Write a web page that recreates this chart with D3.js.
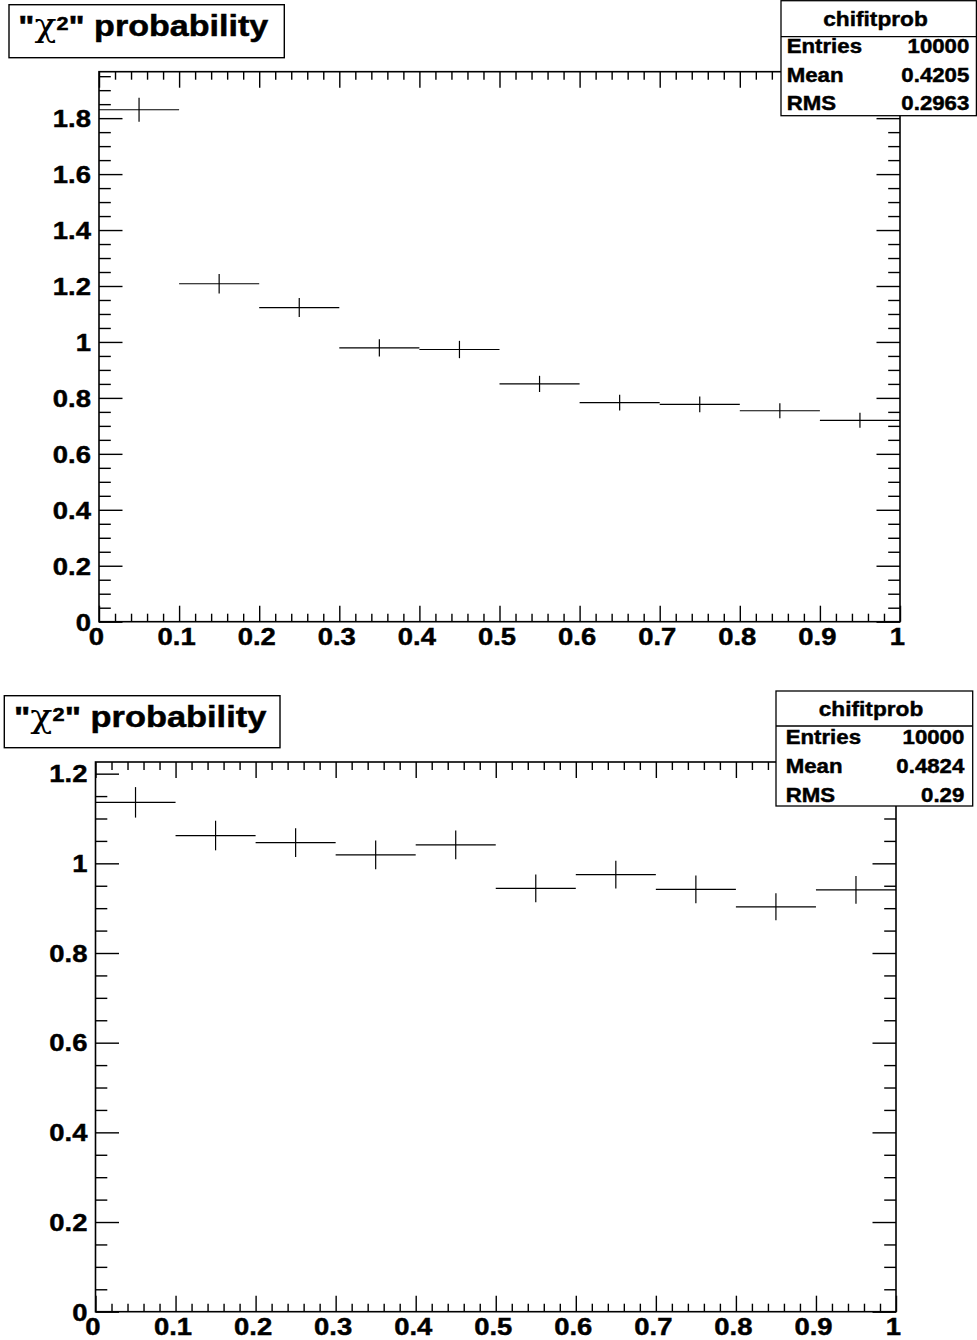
<!DOCTYPE html>
<html>
<head>
<meta charset="utf-8">
<script src="https://cdn.jsdelivr.net/npm/d3@7"></script>
<style>
  body { margin: 0; background: #fff; }
  svg { display: block; }
</style>
</head>
<body>
<script>
// Histogram "chifitprob": 10 bins on [0,1], normalised to unit area.
const binEdges = [0, 0.1, 0.2, 0.3, 0.4, 0.5, 0.6, 0.7, 0.8, 0.9, 1.0];

// upper pad
const topValues = [1.830, 1.208, 1.123, 0.979, 0.973, 0.850, 0.783, 0.777, 0.754, 0.720];
const topErrors = [0.043, 0.035, 0.034, 0.031, 0.031, 0.029, 0.028, 0.028, 0.027, 0.027];
const topStats = ["10000", "0.4205", "0.2963"];

// lower pad
const bottomValues = [1.136, 1.062, 1.046, 1.019, 1.041, 0.944, 0.975, 0.942, 0.903, 0.941];
const bottomErrors = [0.034, 0.033, 0.032, 0.032, 0.032, 0.031, 0.031, 0.031, 0.030, 0.031];
const bottomStats = ["10000", "0.4824", "0.29"];

const xTicks = [0, 0.1, 0.2, 0.3, 0.4, 0.5, 0.6, 0.7, 0.8, 0.9, 1];
const topYTicks = [0, 0.2, 0.4, 0.6, 0.8, 1, 1.2, 1.4, 1.6, 1.8];
const bottomYTicks = [0, 0.2, 0.4, 0.6, 0.8, 1, 1.2];
const statsLabels = ["Entries", "Mean", "RMS"];
const histName = "chifitprob";

const W = 977, H = 1340;
const TEXT_SX = 1.12;   // horizontal stretch of the bold sans text

const svg = d3.select("body").append("svg")
  .attr("width", W).attr("height", H)
  .style("font-family", '"Liberation Sans", Arial, Helvetica, sans-serif');

function label(g, x, y, str, size, anchor, sx) {
  return g.append("text")
    .attr("transform", `translate(${x},${y}) scale(${sx},1)`)
    .attr("text-anchor", anchor)
    .attr("font-size", size)
    .attr("font-weight", "bold")
    .attr("fill", "#000")
    .attr("stroke", "#000")
    .attr("stroke-width", 0.45)
    .text(str);
}

const fmt = d => String(+d.toFixed(2));

const pads = [
  {
    values: topValues, errors: topErrors, yTicks: topYTicks, yMax: 1.966, stats: topStats,
    frame: { left: 99, right: 900, top: 71.7, bottom: 621.7 },
    title: { box: [9, 4.7, 284.3, 57.7], x0: 18.3, x1: 268.7, base: 35.7 },
    sbox: { x0: 781, y0: 0.7, x1: 976.4, y1: 115.7, sep: 36.7, head: 26, hx: 875.5,
            rows: [53.3, 82.3, 110], lx: 786.7, rx: 969.3 }
  },
  {
    values: bottomValues, errors: bottomErrors, yTicks: bottomYTicks, yMax: 1.226, stats: bottomStats,
    frame: { left: 95.5, right: 896, top: 762, bottom: 1311.7 },
    title: { box: [4.3, 695.7, 280, 747.7], x0: 14, x1: 266.7, base: 726.7 },
    sbox: { x0: 776, y0: 691, x1: 972.7, y1: 806, sep: 726, head: 715.5, hx: 871,
            rows: [744, 773, 801.5], lx: 785.7, rx: 964.3 }
  }
];

pads.forEach(p => {
  const f = p.frame;
  const g = svg.append("g");
  const x = d3.scaleLinear().domain([0, 1]).range([f.left, f.right]);
  const y = d3.scaleLinear().domain([0, p.yMax]).range([f.bottom, f.top]);

  const xMinor = d3.range(0, 1.0001, 0.02).filter(v => Math.abs(v * 10 - Math.round(v * 10)) > 1e-6);
  const yMinor = d3.range(0, p.yMax, 0.05).filter(v => Math.abs(v * 5 - Math.round(v * 5)) > 1e-6);

  const styleAxis = sel => {
    sel.select(".domain").remove();
    sel.selectAll("line").attr("stroke", "#000").attr("stroke-width", 1.4);
    sel.selectAll("text").remove();
  };

  // ticks on all four sides, pointing into the frame
  g.append("g").attr("transform", `translate(0,${f.bottom})`)
    .call(d3.axisBottom(x).tickValues(xTicks).tickSize(-16)).call(styleAxis);
  g.append("g").attr("transform", `translate(0,${f.bottom})`)
    .call(d3.axisBottom(x).tickValues(xMinor).tickSize(-8)).call(styleAxis);
  g.append("g").attr("transform", `translate(0,${f.top})`)
    .call(d3.axisTop(x).tickValues(xTicks).tickSize(-16)).call(styleAxis);
  g.append("g").attr("transform", `translate(0,${f.top})`)
    .call(d3.axisTop(x).tickValues(xMinor).tickSize(-8)).call(styleAxis);
  g.append("g").attr("transform", `translate(${f.left},0)`)
    .call(d3.axisLeft(y).tickValues(p.yTicks).tickSize(-23.5)).call(styleAxis);
  g.append("g").attr("transform", `translate(${f.left},0)`)
    .call(d3.axisLeft(y).tickValues(yMinor).tickSize(-11.8)).call(styleAxis);
  g.append("g").attr("transform", `translate(${f.right},0)`)
    .call(d3.axisRight(y).tickValues(p.yTicks).tickSize(-23.5)).call(styleAxis);
  g.append("g").attr("transform", `translate(${f.right},0)`)
    .call(d3.axisRight(y).tickValues(yMinor).tickSize(-11.8)).call(styleAxis);

  // frame
  g.append("rect")
    .attr("x", f.left).attr("y", f.top)
    .attr("width", f.right - f.left).attr("height", f.bottom - f.top)
    .attr("fill", "none").attr("stroke", "#000").attr("stroke-width", 1.6);

  // tick labels
  xTicks.forEach(v => label(g, x(v) - 2.5, f.bottom + 23.5, fmt(v), 24.5, "middle", TEXT_SX));
  p.yTicks.forEach(v => label(g, f.left - 8, y(v) + 8.8, fmt(v), 24.5, "end", TEXT_SX));

  // bin contents with statistical errors
  const bins = p.values.map((v, i) => ({ x0: binEdges[i], x1: binEdges[i + 1], v, e: p.errors[i] }));
  const marks = g.append("g").attr("stroke", "#000").attr("stroke-width", 1.2);
  marks.selectAll("line.h").data(bins).join("line").attr("class", "h")
    .attr("x1", d => x(d.x0)).attr("x2", d => x(d.x1))
    .attr("y1", d => y(d.v)).attr("y2", d => y(d.v));
  marks.selectAll("line.v").data(bins).join("line").attr("class", "v")
    .attr("x1", d => x((d.x0 + d.x1) / 2)).attr("x2", d => x((d.x0 + d.x1) / 2))
    .attr("y1", d => y(d.v - d.e)).attr("y2", d => y(d.v + d.e));

  // title box
  const tb = p.title.box;
  g.append("rect").attr("x", tb[0]).attr("y", tb[1])
    .attr("width", tb[2] - tb[0]).attr("height", tb[3] - tb[1])
    .attr("fill", "#fff").attr("stroke", "#000").attr("stroke-width", 1.4);
  const t = g.append("text").attr("font-size", 30).attr("font-weight", "bold")
    .attr("fill", "#000").attr("stroke", "#000").attr("stroke-width", 0.5);
  t.append("tspan").text('"');
  t.append("tspan").attr("font-family", '"DejaVu Serif", "Liberation Serif", serif')
    .attr("font-weight", "normal").attr("stroke-width", 0).attr("font-size", 32).text("χ");
  t.append("tspan").attr("font-size", 19).attr("dy", -6).text("2");
  t.append("tspan").attr("dy", 6).text('"');
  t.append("tspan").text(" probability");
  const bb = t.node().getBBox();
  const tsx = (p.title.x1 - p.title.x0) / bb.width;
  t.attr("transform", `translate(${p.title.x0 - bb.x * tsx},${p.title.base}) scale(${tsx},1)`);

  // statistics box
  const s = p.sbox;
  g.append("rect").attr("x", s.x0).attr("y", s.y0)
    .attr("width", s.x1 - s.x0).attr("height", s.y1 - s.y0)
    .attr("fill", "#fff").attr("stroke", "#000").attr("stroke-width", 1.3);
  g.append("line").attr("x1", s.x0).attr("x2", s.x1).attr("y1", s.sep).attr("y2", s.sep)
    .attr("stroke", "#000").attr("stroke-width", 1.3);
  label(g, s.hx, s.head, histName, 21, "middle", 1.08);
  statsLabels.forEach((name, i) => {
    label(g, s.lx, s.rows[i], name, 19.5, "start", 1.14);
    label(g, s.rx, s.rows[i], p.stats[i], 19.5, "end", 1.14);
  });
});
</script>
</body>
</html>
